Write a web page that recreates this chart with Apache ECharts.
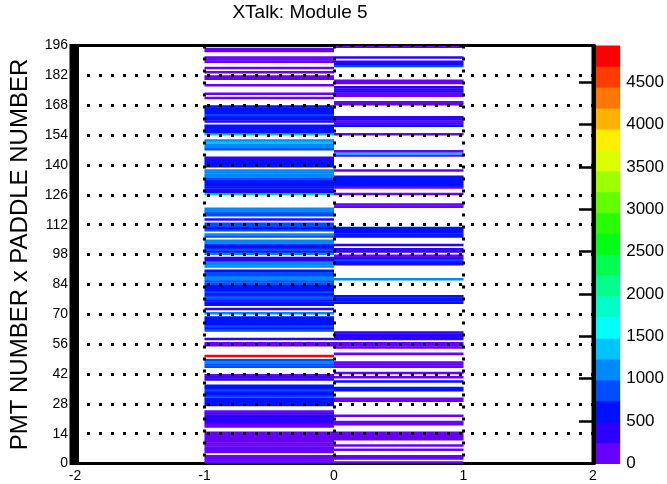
<!DOCTYPE html>
<html lang="en">
<head>
<meta charset="UTF-8">
<title>XTalk: Module 5</title>
<script src="https://cdn.jsdelivr.net/npm/echarts@6/dist/echarts.min.js"></script>
<style>
  * { margin: 0; padding: 0; box-sizing: border-box; }
  html, body { width: 667px; height: 484px; background: #fff; overflow: hidden; }
  #chart { width: 667px; height: 484px; }
</style>
</head>
<body>
<div id="chart"></div>
<script>
// bin contents, index = y bin (0 at the bottom), one row of 14 per grid step
const colLeft = [ // x bin -1 .. 0
  150, 120, 160, 140, 0, 120, 170, 130, 150, 160, 110, 140, 120, 150,
  130, 0, 0, 100, 150, 420, 380, 450, 400, 260, 240, 0, 0, 560,
  610, 700, 640, 900, 680, 620, 860, 700, 640, 0, 0, 390, 420, 200,
  0, 0, 0, 760, 880, 1000, 950, 0, 4850, 0, 0, 0, 0, 120,
  160, 0, 420, 0, 0, 0, 950, 700, 820, 600, 720, 650, 500, 0,
  1150, 0, 250, 0, 640, 700, 660, 920, 750, 600, 880, 640, 700, 620,
  900, 860, 1100, 1150, 760, 880, 620, 0, 1100, 1200, 1150, 420, 480, 0,
  1100, 680, 760, 640, 700, 1100, 1150, 0, 900, 1100, 0, 880, 700, 950,
  900, 0, 480, 0, 820, 880, 1100, 1150, 0, 0, 0, 0, 0, 0,
  1350, 580, 300, 680, 620, 700, 640, 880, 1080, 1150, 1100, 1200, 0, 600,
  650, 620, 560, 350, 0, 0, 0, 900, 1100, 1120, 1380, 1150, 0, 0,
  1250, 540, 620, 600, 550, 0, 380, 560, 600, 850, 580, 620, 600, 560,
  0, 0, 0, 180, 0, 150, 0, 0, 0, 170, 0, 0, 160, 130,
  0, 150, 0, 160, 0, 0, 200, 240, 220, 0, 0, 120, 170, 0
];
const colRight = [ // x bin 0 .. 1
  150, 0, 200, 170, 0, 0, 160, 0, 180, 0, 0, 200, 230, 240,
  150, 0, 0, 0, 200, 220, 0, 0, 150, 0, 0, 0, 0, 0,
  0, 200, 220, 0, 0, 0, 600, 550, 0, 0, 700, 0, 120, 0,
  150, 0, 0, 210, 200, 180, 0, 0, 0, 150, 0, 0, 130, 140,
  160, 0, 250, 280, 300, 260, 0, 0, 0, 0, 0, 0, 0, 0,
  0, 0, 0, 0, 0, 580, 620, 640, 600, 0, 0, 0, 0, 0,
  0, 0, 1150, 0, 0, 0, 0, 0, 0, 420, 600, 800, 400, 200,
  0, 380, 350, 0, 250, 0, 0, 0, 560, 620, 580, 650, 600, 0,
  0, 0, 0, 0, 0, 0, 0, 0, 200, 170, 0, 0, 0, 0,
  120, 0, 0, 170, 580, 640, 600, 620, 560, 0, 0, 120, 0, 0,
  0, 0, 0, 0, 150, 1250, 180, 0, 0, 0, 0, 0, 0, 0,
  130, 0, 0, 0, 500, 450, 130, 380, 420, 0, 0, 0, 0, 0,
  100, 160, 0, 0, 140, 180, 450, 420, 380, 0, 100, 150, 0, 0,
  0, 0, 0, 0, 860, 620, 450, 0, 300, 0, 0, 0, 0, 150
];
const xBinLow = [-1, 0];
const xBinWidth = 1;
const yBinWidth = 1;
const zMax = 4932;
const zTicks = [0, 500, 1000, 1500, 2000, 2500, 3000, 3500, 4000, 4500];

// 20 contour colours, violet -> red
const palette = [
  '#6600ff', '#2b00ff', '#0011ff', '#004dff', '#0088ff',
  '#00c4ff', '#00ffff', '#00ffc8', '#00ff8c', '#00ff51',
  '#00ff15', '#26ff00', '#62ff00', '#9dff00', '#d9ff00',
  '#ffee00', '#ffb200', '#ff7700', '#ff3c00', '#ff0000'
];

const FONT = '"Liberation Sans", Arial, Helvetica, sans-serif';

const binData = [];
[colLeft, colRight].forEach(function (col, c) {
  col.forEach(function (v, i) {
    if (v > 0) binData.push([xBinLow[c], i, v]);
  });
});

const levelW = zMax / palette.length;
const pieces = palette.map(function (color, k) {
  if (k === palette.length - 1) return { gte: k * levelW, color: color };
  return { gte: k * levelW, lt: (k + 1) * levelW, color: color };
});
const levelData = palette.map(function (color, k) {
  return [k * levelW, (k + 1) * levelW, k];
});

function renderBin(params, api) {
  const x0 = api.value(0), y0 = api.value(1);
  const p0 = api.coord([x0, y0]);
  const p1 = api.coord([x0 + xBinWidth, y0 + yBinWidth]);
  return {
    type: 'rect',
    shape: { x: p0[0], y: p1[1], width: p1[0] - p0[0], height: p0[1] - p1[1] + 0.4 },
    style: { fill: api.visual('color') }
  };
}

function renderLevel(params, api) {
  const lo = api.coord([0, api.value(0)]);
  const hi = api.coord([1, api.value(1)]);
  return {
    type: 'rect',
    shape: { x: lo[0], y: hi[1], width: hi[0] - lo[0], height: lo[1] - hi[1] + 0.5 },
    style: { fill: palette[api.value(2)] }
  };
}

const dotted = { color: '#000', width: 3, type: [3, 9] };

const chart = echarts.init(document.getElementById('chart'));
chart.setOption({
  animation: false,
  backgroundColor: '#fff',
  textStyle: { fontFamily: FONT },
  grid: [
    { left: 71, top: 45.5, width: 522, height: 418 },
    { left: 594, top: 45.5, width: 32, height: 418 }
  ],
  xAxis: [
    {
      type: 'value', gridIndex: 0, min: -2, max: 2, interval: 1, z: 5,
      axisLine: { show: false },
      axisTick: { show: false },
      axisLabel: { margin: 6, fontSize: 14, color: '#000', fontFamily: FONT },
      splitLine: { show: true, showMinLine: false, showMaxLine: false, lineStyle: dotted }
    },
    { type: 'value', gridIndex: 1, min: 0, max: 1, show: false }
  ],
  yAxis: [
    {
      type: 'value', gridIndex: 0, min: 0, max: 196, interval: 14, z: 5,
      name: 'PMT NUMBER x PADDLE NUMBER',
      nameLocation: 'middle', nameRotate: 90, nameGap: 43,
      nameTextStyle: { fontSize: 24, color: '#000', fontFamily: FONT },
      axisLine: { show: false },
      axisTick: { show: false },
      axisLabel: { margin: 7, fontSize: 14, color: '#000', fontFamily: FONT },
      splitLine: { show: true, showMinLine: false, showMaxLine: true, lineStyle: dotted }
    },
    {
      type: 'value', gridIndex: 1, position: 'right', min: 0, max: zMax, z: 5,
      axisLine: { show: true, lineStyle: { color: '#000', width: 3 } },
      axisTick: { show: true, inside: true, length: 15, customValues: zTicks,
                  lineStyle: { color: '#000', width: 2.5 } },
      axisLabel: {
        margin: 6, fontSize: 17, color: '#000', fontFamily: FONT, customValues: zTicks,
        formatter: function (v) { return String(v); }
      },
      splitLine: { show: false }
    }
  ],
  visualMap: {
    type: 'piecewise', show: false, seriesIndex: 0, dimension: 2, pieces: pieces
  },
  graphic: [
    {
      type: 'rect', z: 1,
      shape: { x: 71, y: 45.5, width: 522, height: 418 },
      style: { fill: 'none', stroke: '#000', lineWidth: 3 }
    },
    {
      type: 'rect', z: 1,
      shape: { x: 71, y: 44, width: 8, height: 421 },
      style: { fill: '#000' }
    },
    {
      type: 'text', z: 1, x: 300, y: 13,
      style: {
        text: 'XTalk: Module 5', font: '19px ' + FONT, fill: '#000',
        textAlign: 'center', textVerticalAlign: 'middle'
      }
    }
  ],
  series: [
    {
      type: 'custom', xAxisIndex: 0, yAxisIndex: 0, z: 2,
      data: binData, renderItem: renderBin, clip: true
    },
    {
      type: 'custom', xAxisIndex: 1, yAxisIndex: 1, z: 2,
      data: levelData, renderItem: renderLevel
    }
  ]
});
</script>
</body>
</html>
